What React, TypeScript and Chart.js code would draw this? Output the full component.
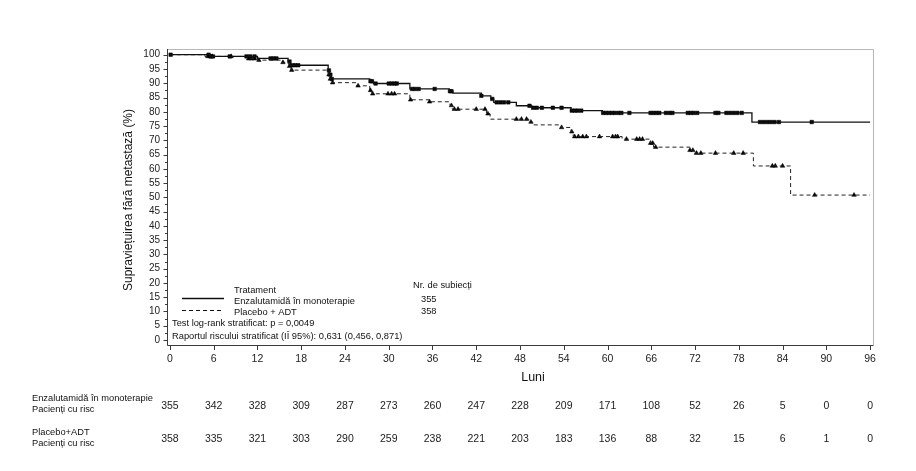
import React, { useEffect, useRef } from 'react';
import { Chart, registerables } from 'chart.js';

Chart.register(...registerables);

// Month ticks on the time axis and survival ticks on the value axis
const MONTH_TICKS = [0, 6, 12, 18, 24, 30, 36, 42, 48, 54, 60, 66, 72, 78, 84, 90, 96];
const SURVIVAL_TICKS = [0, 5, 10, 15, 20, 25, 30, 35, 40, 45, 50, 55, 60, 65, 70, 75, 80, 85, 90, 95, 100];

// Patients at risk at each month tick
const ENZ_AT_RISK = [355, 342, 328, 309, 287, 273, 260, 247, 228, 209, 171, 108, 52, 26, 5, 0, 0];
const PBO_AT_RISK = [358, 335, 321, 303, 290, 259, 238, 221, 203, 183, 136, 88, 32, 15, 6, 1, 0];

// Kaplan-Meier steps: event time (months) and survival after the event (%)
const ENZ_TIMES = [0, 5.5, 12.0, 16.2, 16.5, 21.7, 21.9, 22.1, 27.4, 27.9, 32.9, 38.3, 38.8, 42.7, 44.0, 44.4, 47.5, 49.6, 55.0, 59.3, 79.8];
const ENZ_SURV = [100, 99.4, 98.7, 97.6, 96.3, 94.5, 93.0, 91.5, 90.7, 89.9, 88.0, 87.2, 86.5, 85.6, 84.5, 83.3, 82.1, 81.4, 80.4, 79.6, 76.4];

const PBO_TIMES = [0, 4.8, 10.6, 12.0, 15.3, 16.3, 16.6, 21.7, 21.9, 22.2, 25.6, 27.4, 27.7, 32.9, 35.6, 38.4, 38.7, 43.4, 43.9, 49.2, 49.7, 53.7, 55.0, 55.3, 62.0, 65.9, 66.3, 71.3, 71.8, 80.0, 85.1];
const PBO_SURV = [100, 99.4, 98.6, 98.1, 97.3, 96.0, 94.6, 93.0, 91.5, 90.2, 89.1, 87.5, 86.3, 84.2, 83.5, 82.2, 80.9, 79.3, 77.4, 76.4, 75.4, 74.5, 73.0, 71.3, 70.4, 69.0, 67.6, 66.5, 65.5, 61.0, 50.8];

// Censoring times (months)
const ENZ_CENSOR = [0.1, 5.3, 5.6, 5.9, 8.2, 10.5, 11.0, 11.6, 13.8, 14.2, 14.6, 16.4, 16.8, 17.2, 17.6, 21.8, 22.0, 22.2, 27.5, 27.7, 28.2, 30.0, 30.4, 30.8, 31.1, 33.2, 33.6, 34.1, 36.3, 38.4, 38.6, 42.7, 44.2, 44.8, 45.3, 45.8, 46.4, 49.3, 49.8, 50.3, 51.0, 52.5, 53.7, 55.1, 55.5, 55.9, 56.4, 59.4, 59.8, 60.2, 60.6, 61.0, 61.5, 61.9, 63.0, 65.9, 66.3, 66.7, 67.1, 68.0, 68.5, 68.9, 71.0, 71.4, 71.8, 72.3, 74.8, 75.2, 76.3, 76.8, 77.3, 77.8, 78.4, 80.9, 81.4, 81.9, 82.4, 82.9, 83.5, 88.0];
const PBO_CENSOR = [5.2, 5.5, 5.8, 8.4, 10.8, 11.2, 11.6, 12.2, 15.5, 16.4, 16.7, 21.8, 22.0, 22.3, 25.8, 27.5, 27.8, 29.9, 30.4, 30.8, 33.0, 35.6, 38.6, 39.0, 39.5, 42.0, 43.2, 43.6, 47.5, 48.2, 48.9, 49.5, 53.7, 55.1, 55.5, 56.0, 56.6, 57.1, 58.9, 60.7, 61.1, 61.4, 62.6, 64.0, 64.4, 64.8, 65.9, 66.2, 66.6, 71.3, 71.7, 72.2, 72.8, 74.8, 77.3, 78.6, 82.6, 83.0, 84.0, 88.4, 93.8];

const END_MONTH = 96;

const NARROW = "'Liberation Sans Narrow', 'Arial Narrow', 'Liberation Sans', sans-serif";
const SANS = "'Liberation Sans', Arial, sans-serif";

function survivalAt(times: number[], surv: number[], t: number): number {
  let s = surv[0];
  for (let i = 0; i < times.length; i++) {
    if (times[i] <= t) s = surv[i];
  }
  return s;
}

function curve(times: number[], surv: number[]) {
  const pts = times.map((t, i) => ({ x: t, y: surv[i] }));
  pts.push({ x: END_MONTH, y: surv[surv.length - 1] });
  return pts;
}

function censorPoints(cens: number[], times: number[], surv: number[]) {
  return cens.map((t) => ({ x: t, y: survivalAt(times, surv, t) }));
}

const framePlugin = {
  id: 'kmFrame',
  afterDraw(chart: any) {
    const { ctx, chartArea } = chart;
    const xs = chart.scales.x;
    const ys = chart.scales.y;
    const { left, right, top, bottom } = chartArea;
    ctx.save();

    // frame: light top/right, dark axes left/bottom
    ctx.lineWidth = 1;
    ctx.strokeStyle = '#b8b8b8';
    ctx.beginPath();
    ctx.moveTo(left, top + 0.5);
    ctx.lineTo(right + 0.5, top + 0.5);
    ctx.lineTo(right + 0.5, bottom);
    ctx.stroke();
    ctx.strokeStyle = '#3a3a3a';
    ctx.beginPath();
    ctx.moveTo(left + 0.5, top);
    ctx.lineTo(left + 0.5, bottom + 0.5);
    ctx.lineTo(right + 0.5, bottom + 0.5);
    ctx.stroke();

    // y tick marks (major every 5, minor between)
    ctx.beginPath();
    for (let v = 0; v <= 100; v += 2.5) {
      const y = Math.round(ys.getPixelForValue(v)) + 0.5;
      const len = v % 5 === 0 ? 4 : 2.5;
      ctx.moveTo(left + 0.5 - len, y);
      ctx.lineTo(left + 0.5, y);
    }
    // x tick marks
    MONTH_TICKS.forEach((m) => {
      const x = Math.round(xs.getPixelForValue(m)) + 0.5;
      ctx.moveTo(x, bottom + 0.5);
      ctx.lineTo(x, bottom + 5);
    });
    ctx.stroke();

    // axis titles
    ctx.fillStyle = '#111';
    ctx.font = `12px ${SANS}`;
    ctx.textAlign = 'center';
    ctx.textBaseline = 'middle';
    ctx.save();
    ctx.translate(129, 200);
    ctx.rotate(-Math.PI / 2);
    ctx.fillText('Supraviețuirea fără metastază (%)', 0, 0);
    ctx.restore();
    ctx.font = `12.5px ${SANS}`;
    ctx.fillText('Luni', 533, 378);

    // legend inside the plot
    ctx.strokeStyle = '#111';
    ctx.lineWidth = 1.5;
    ctx.beginPath();
    ctx.moveTo(182, 298.5);
    ctx.lineTo(224, 298.5);
    ctx.stroke();
    ctx.lineWidth = 1;
    ctx.setLineDash([4, 3]);
    ctx.beginPath();
    ctx.moveTo(182, 310.5);
    ctx.lineTo(224, 310.5);
    ctx.stroke();
    ctx.setLineDash([]);

    ctx.textAlign = 'left';
    ctx.font = `9.3px ${SANS}`;
    ctx.fillText('Tratament', 234, 290);
    ctx.fillText('Enzalutamidă în monoterapie', 234, 301.5);
    ctx.fillText('Placebo + ADT', 234, 312.5);
    ctx.fillText('Nr. de subiecți', 413, 285);
    ctx.fillText('355', 421, 299);
    ctx.fillText('358', 421, 311.5);
    ctx.fillText('Test log-rank stratificat: p = 0,0049', 172, 323.5);
    ctx.fillText('Raportul riscului stratificat (IÎ 95%): 0,631 (0,456, 0,871)', 172, 336.5);

    // number-at-risk table
    ctx.font = `9.3px ${SANS}`;
    ctx.fillText('Enzalutamidă în monoterapie', 32, 398);
    ctx.fillText('Pacienți cu risc', 32, 409);
    ctx.fillText('Placebo+ADT', 32, 432);
    ctx.fillText('Pacienți cu risc', 32, 443);

    ctx.textAlign = 'center';
    ctx.font = `10.5px ${NARROW}`;
    ctx.fillStyle = '#222';
    MONTH_TICKS.forEach((m, i) => {
      const x = xs.getPixelForValue(m);
      ctx.fillText(String(ENZ_AT_RISK[i]), x, 406.5);
      ctx.fillText(String(PBO_AT_RISK[i]), x, 439.5);
    });

    ctx.restore();
  },
};

export default function App() {
  const canvasRef = useRef<HTMLCanvasElement>(null);

  useEffect(() => {
    const canvas = canvasRef.current;
    if (!canvas) return;
    const chart = new Chart(canvas, {
      type: 'line',
      data: {
        datasets: [
          {
            label: 'Enzalutamidă în monoterapie',
            data: curve(ENZ_TIMES, ENZ_SURV),
            borderColor: '#111',
            borderWidth: 1.3,
            stepped: true,
            pointRadius: 0,
            fill: false,
          },
          {
            label: 'Placebo + ADT',
            data: curve(PBO_TIMES, PBO_SURV),
            borderColor: '#222',
            borderWidth: 1,
            borderDash: [4, 3],
            stepped: true,
            pointRadius: 0,
            fill: false,
          },
          {
            label: 'Cenzurat enzalutamidă',
            data: censorPoints(ENZ_CENSOR, ENZ_TIMES, ENZ_SURV),
            showLine: false,
            pointStyle: 'rect',
            pointRadius: 2.5,
            pointBackgroundColor: '#000',
            pointBorderColor: '#000',
            pointBorderWidth: 0.5,
          },
          {
            label: 'Cenzurat placebo',
            data: censorPoints(PBO_CENSOR, PBO_TIMES, PBO_SURV),
            showLine: false,
            pointStyle: 'triangle',
            pointRadius: 2.6,
            pointBackgroundColor: '#000',
            pointBorderColor: '#000',
            pointBorderWidth: 0.5,
          },
        ],
      },
      options: {
        responsive: false,
        animation: false,
        events: [],
        layout: { padding: { left: 127, top: 49, right: 43, bottom: 96 } },
        plugins: {
          legend: { display: false },
          tooltip: { enabled: false },
          title: { display: false },
        },
        scales: {
          x: {
            type: 'linear',
            min: -0.4,
            max: 96.4,
            afterBuildTicks: (scale: any) => {
              scale.ticks = MONTH_TICKS.map((v) => ({ value: v }));
            },
            afterFit: (scale: any) => {
              scale.height = 30;
            },
            grid: { display: false, drawTicks: true, tickLength: 5 },
            border: { display: false },
            ticks: {
              autoSkip: false,
              maxRotation: 0,
              padding: 3,
              color: '#222',
              font: { family: NARROW, size: 10.5 },
              callback: (v: any) => String(v),
            },
          },
          y: {
            type: 'linear',
            min: -1.75,
            max: 102,
            afterBuildTicks: (scale: any) => {
              scale.ticks = SURVIVAL_TICKS.map((v) => ({ value: v }));
            },
            afterFit: (scale: any) => {
              scale.width = 40;
            },
            grid: { display: false, drawTicks: true, tickLength: 4 },
            border: { display: false },
            ticks: {
              autoSkip: false,
              padding: 3,
              color: '#222',
              font: { family: NARROW, size: 10 },
              callback: (v: any) => String(v),
            },
          },
        },
      },
      plugins: [framePlugin],
    });
    return () => chart.destroy();
  }, []);

  return (
    <div style={{ position: 'fixed', left: 0, top: 0, width: 916, height: 471, background: '#fff' }}>
      <canvas ref={canvasRef} width={916} height={471} style={{ display: 'block' }} />
    </div>
  );
}
